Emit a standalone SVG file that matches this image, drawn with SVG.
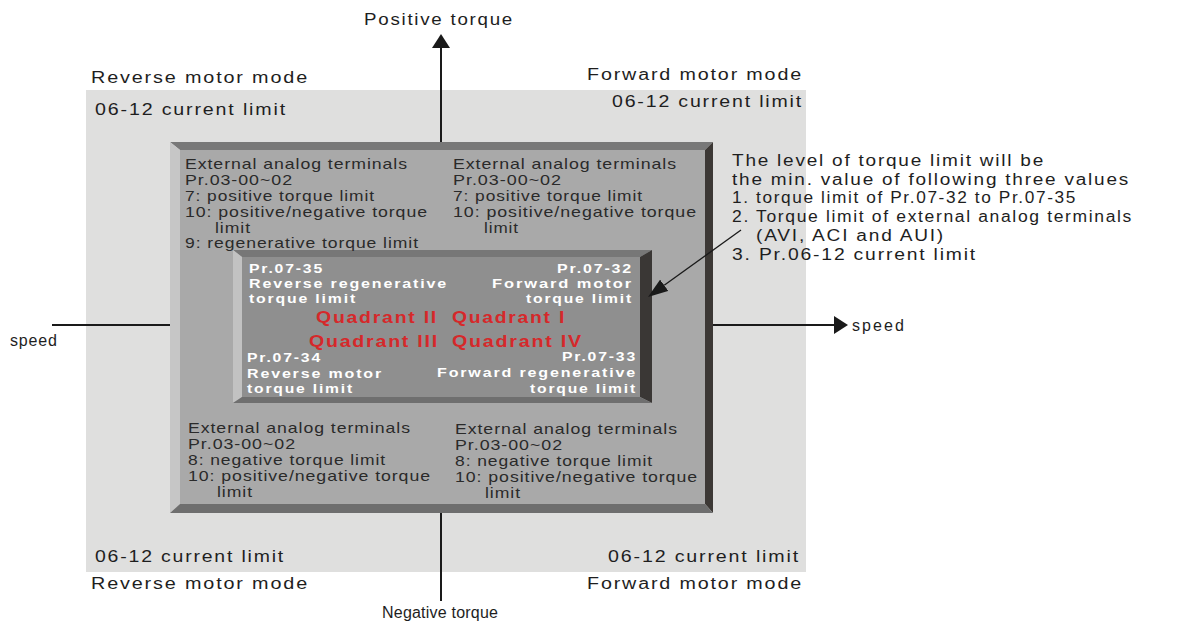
<svg xmlns="http://www.w3.org/2000/svg" width="1187" height="635" viewBox="0 0 1187 635">
<style>
text{font-family:"Liberation Sans",Arial,sans-serif}
.lab{font-size:16px;letter-spacing:1.5px;fill:#1e1e1e}
.plain{font-size:16px;fill:#1e1e1e}
.g{font-size:15px;letter-spacing:0.8px;fill:#2a2a2a}
.w{font-size:13px;letter-spacing:1.5px;font-weight:bold;fill:#ffffff}
.q{font-size:16.5px;letter-spacing:1.5px;font-weight:bold;fill:#d6282a}
.ax{stroke:#1a1a1a;stroke-width:2;fill:none}
.an{stroke:#1a1a1a;stroke-width:1.3;fill:none}
</style>
<defs>
<marker id="ah" viewBox="0 0 14 18" refX="0" refY="9" markerWidth="14" markerHeight="18" markerUnits="userSpaceOnUse" orient="auto"><path d="M0,0 L14,9 L0,18 z" fill="#1a1a1a"/></marker>
<marker id="ah2" viewBox="0 0 20 14" refX="0" refY="7" markerWidth="20" markerHeight="14" markerUnits="userSpaceOnUse" orient="auto"><path d="M0,0 L20,7 L0,14 z" fill="#1a1a1a"/></marker>
</defs>
<rect width="1187" height="635" fill="#ffffff"/>
<g id="region">
<rect x="86" y="90" width="720" height="482" fill="#dfdfde"/>
</g>
<g id="outer-box">
<polygon points="170,142 713,142 705,150 180,150" fill="#787878"/>
<polygon points="170,142 180,150 180,504 170,513" fill="#c6c6c6"/>
<polygon points="713,142 713,513 705,504 705,150" fill="#3c3835"/>
<polygon points="170,513 180,504 705,504 713,513" fill="#6e6e6e"/>
<rect x="180" y="150" width="525" height="354" fill="#a9a9a9"/>
</g>
<g id="inner-box">
<polygon points="233,250 652,250 640,257 242,257" fill="#777777"/>
<polygon points="233,250 242,257 242,397 233,403" fill="#c2c2c2"/>
<polygon points="652,250 652,403 640,397 640,257" fill="#3a3735"/>
<polygon points="233,403 242,397 640,397 652,403" fill="#6f6f6f"/>
<rect x="242" y="257" width="398" height="140" fill="#8f8f8f"/>
</g>
<g id="connectors">
<line class="ax" x1="441" y1="142" x2="441" y2="48" marker-end="url(#ah)"/>
<line class="ax" x1="441" y1="513" x2="441" y2="601"/>
<line class="ax" x1="52" y1="325" x2="170" y2="325"/>
<line class="ax" x1="713" y1="325" x2="834" y2="325" marker-end="url(#ah)"/>
<line class="an" x1="741" y1="230" x2="664.2" y2="285.3" marker-end="url(#ah2)"/>
</g>
<g id="axis-labels">
<text class="lab" x="364" y="25" textLength="150" lengthAdjust="spacingAndGlyphs">Positive torque</text>
<text class="plain" x="382" y="618" textLength="116">Negative torque</text>
<text class="plain" x="10" y="346" textLength="47">speed</text>
<text class="plain" x="852" y="331" textLength="52">speed</text>
</g>
<g id="corner-labels">
<text class="lab" x="91" y="83" textLength="218" lengthAdjust="spacingAndGlyphs">Reverse motor mode</text>
<text class="lab" x="587" y="80" textLength="216" lengthAdjust="spacingAndGlyphs">Forward motor mode</text>
<text class="lab" x="95" y="115" textLength="192" lengthAdjust="spacingAndGlyphs">06-12 current limit</text>
<text class="lab" x="612" y="107" textLength="191" lengthAdjust="spacingAndGlyphs">06-12 current limit</text>
<text class="lab" x="95" y="562" textLength="190" lengthAdjust="spacingAndGlyphs">06-12 current limit</text>
<text class="lab" x="608" y="562" textLength="192" lengthAdjust="spacingAndGlyphs">06-12 current limit</text>
<text class="lab" x="91" y="589" textLength="218" lengthAdjust="spacingAndGlyphs">Reverse motor mode</text>
<text class="lab" x="587" y="589" textLength="216" lengthAdjust="spacingAndGlyphs">Forward motor mode</text>
</g>
<g id="ext-top-left">
<text class="g" x="185" y="169" textLength="223" lengthAdjust="spacingAndGlyphs">External analog terminals</text>
<text class="g" x="185" y="185" textLength="108" lengthAdjust="spacingAndGlyphs">Pr.03-00~02</text>
<text class="g" x="185" y="200.5" textLength="190" lengthAdjust="spacingAndGlyphs">7: positive torque limit</text>
<text class="g" x="185" y="216.5" textLength="243" lengthAdjust="spacingAndGlyphs">10: positive/negative torque</text>
<text class="g" x="215" y="232.5" textLength="36" lengthAdjust="spacingAndGlyphs">limit</text>
<text class="g" x="185" y="248" textLength="234" lengthAdjust="spacingAndGlyphs">9: regenerative torque limit</text>
</g>
<g id="ext-top-right">
<text class="g" x="453" y="169" textLength="224" lengthAdjust="spacingAndGlyphs">External analog terminals</text>
<text class="g" x="453" y="185" textLength="109" lengthAdjust="spacingAndGlyphs">Pr.03-00~02</text>
<text class="g" x="453" y="201" textLength="190" lengthAdjust="spacingAndGlyphs">7: positive torque limit</text>
<text class="g" x="453" y="217" textLength="244" lengthAdjust="spacingAndGlyphs">10: positive/negative torque</text>
<text class="g" x="484" y="233" textLength="35" lengthAdjust="spacingAndGlyphs">limit</text>
</g>
<g id="ext-bottom-left">
<text class="g" x="188" y="433" textLength="223" lengthAdjust="spacingAndGlyphs">External analog terminals</text>
<text class="g" x="188" y="449" textLength="108" lengthAdjust="spacingAndGlyphs">Pr.03-00~02</text>
<text class="g" x="188" y="465" textLength="198" lengthAdjust="spacingAndGlyphs">8: negative torque limit</text>
<text class="g" x="188" y="481" textLength="243" lengthAdjust="spacingAndGlyphs">10: positive/negative torque</text>
<text class="g" x="217" y="497" textLength="36" lengthAdjust="spacingAndGlyphs">limit</text>
</g>
<g id="ext-bottom-right">
<text class="g" x="455" y="434" textLength="223" lengthAdjust="spacingAndGlyphs">External analog terminals</text>
<text class="g" x="455" y="450" textLength="108" lengthAdjust="spacingAndGlyphs">Pr.03-00~02</text>
<text class="g" x="455" y="466" textLength="198" lengthAdjust="spacingAndGlyphs">8: negative torque limit</text>
<text class="g" x="455" y="482" textLength="243" lengthAdjust="spacingAndGlyphs">10: positive/negative torque</text>
<text class="g" x="485" y="498" textLength="36" lengthAdjust="spacingAndGlyphs">limit</text>
</g>
<g id="q2">
<text class="w" x="249" y="273" textLength="75" lengthAdjust="spacingAndGlyphs">Pr.07-35</text>
<text class="w" x="249" y="288" textLength="199" lengthAdjust="spacingAndGlyphs">Reverse regenerative</text>
<text class="w" x="249" y="303" textLength="108" lengthAdjust="spacingAndGlyphs">torque limit</text>
</g>
<g id="q1">
<text class="w" x="557" y="273" textLength="76" lengthAdjust="spacingAndGlyphs">Pr.07-32</text>
<text class="w" x="492" y="288" textLength="141" lengthAdjust="spacingAndGlyphs">Forward motor</text>
<text class="w" x="526" y="303" textLength="107" lengthAdjust="spacingAndGlyphs">torque limit</text>
</g>
<g id="q3">
<text class="w" x="247" y="362" textLength="75" lengthAdjust="spacingAndGlyphs">Pr.07-34</text>
<text class="w" x="247" y="378" textLength="136" lengthAdjust="spacingAndGlyphs">Reverse motor</text>
<text class="w" x="247" y="393" textLength="107" lengthAdjust="spacingAndGlyphs">torque limit</text>
</g>
<g id="q4">
<text class="w" x="562" y="361" textLength="75" lengthAdjust="spacingAndGlyphs">Pr.07-33</text>
<text class="w" x="437" y="377" textLength="200" lengthAdjust="spacingAndGlyphs">Forward regenerative</text>
<text class="w" x="530" y="393" textLength="107" lengthAdjust="spacingAndGlyphs">torque limit</text>
</g>
<g id="quadrants">
<text class="q" x="316" y="323" textLength="122" lengthAdjust="spacingAndGlyphs">Quadrant II</text>
<text class="q" x="452" y="323" textLength="114" lengthAdjust="spacingAndGlyphs">Quadrant I</text>
<text class="q" x="309" y="347" textLength="130" lengthAdjust="spacingAndGlyphs">Quadrant III</text>
<text class="q" x="452" y="347" textLength="131" lengthAdjust="spacingAndGlyphs">Quadrant IV</text>
</g>
<g id="note">
<text class="lab" x="732" y="166" textLength="313" lengthAdjust="spacingAndGlyphs">The level of torque limit will be</text>
<text class="lab" x="732" y="184.5" textLength="398" lengthAdjust="spacingAndGlyphs">the min. value of following three values</text>
<text class="lab" x="732" y="203" textLength="345" lengthAdjust="spacingAndGlyphs">1. torque limit of Pr.07-32 to Pr.07-35</text>
<text class="lab" x="732" y="222" textLength="401" lengthAdjust="spacingAndGlyphs">2. Torque limit of external analog terminals</text>
<text class="lab" x="756" y="240.5" textLength="189" lengthAdjust="spacingAndGlyphs">(AVI, ACI and AUI)</text>
<text class="lab" x="732" y="259.5" textLength="245" lengthAdjust="spacingAndGlyphs">3. Pr.06-12 current limit</text>
</g>
</svg>
